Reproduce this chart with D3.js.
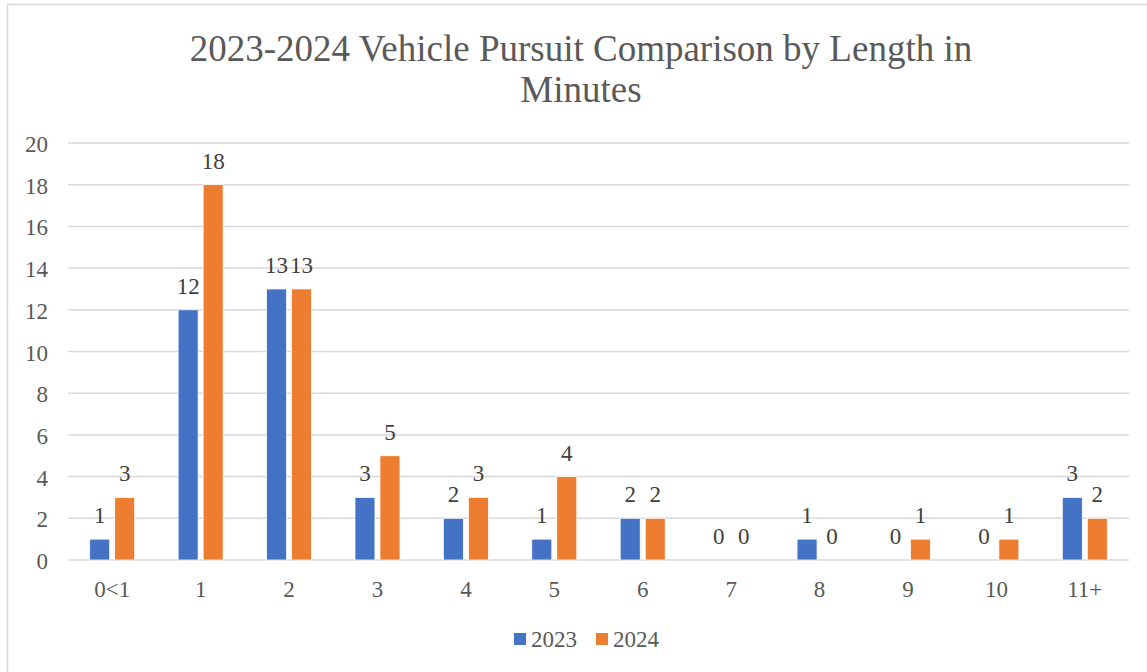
<!DOCTYPE html>
<html>
<head>
<meta charset="utf-8">
<script src="https://cdn.jsdelivr.net/npm/d3@7"></script>
<style>
  body { margin: 0; background: #fff; }
  text { font-family: "Liberation Serif", "Times New Roman", serif; }
</style>
</head>
<body>
<script>
// chart data
var categories = ["0<1", "1", "2", "3", "4", "5", "6", "7", "8", "9", "10", "11+"];
var seriesNames = ["2023", "2024"];
var values2023 = [1, 12, 13, 3, 2, 1, 2, 0, 1, 0, 0, 3];
var values2024 = [3, 18, 13, 5, 3, 4, 2, 0, 0, 1, 1, 2];
var yTicks = [0, 2, 4, 6, 8, 10, 12, 14, 16, 18, 20];
var colors = ["#4472C4", "#ED7D31"];

var width = 1147, height = 672;
var svg = d3.select("body").append("svg")
    .attr("width", width)
    .attr("height", height);

// outer frame
svg.append("rect")
    .attr("x", 7.5).attr("y", 4.5)
    .attr("width", width + 10).attr("height", height + 10)
    .attr("fill", "none")
    .attr("stroke", "#d9d9d9")
    .attr("stroke-width", 1.5);

// title
var title = svg.append("text")
    .attr("text-anchor", "middle")
    .attr("fill", "#595959")
    .attr("font-size", 37);
title.append("tspan").attr("x", 581).attr("y", 61).text("2023-2024 Vehicle Pursuit Comparison by Length in");
title.append("tspan").attr("x", 581).attr("y", 102).text("Minutes");

var plotLeft = 68, plotRight = 1129, plotTop = 143, plotBottom = 560;

var x = d3.scaleBand()
    .domain(categories)
    .range([plotLeft, plotRight]);

var y = d3.scaleLinear()
    .domain([0, 20])
    .range([plotBottom, plotTop]);

// gridlines
svg.selectAll("line.grid")
    .data(yTicks)
    .enter()
    .append("line")
    .attr("class", "grid")
    .attr("x1", plotLeft)
    .attr("x2", plotRight)
    .attr("y1", function (d) { return y(d); })
    .attr("y2", function (d) { return y(d); })
    .attr("stroke", "#d9d9d9")
    .attr("stroke-width", 1.5);

// y axis labels
svg.selectAll("text.ytick")
    .data(yTicks)
    .enter()
    .append("text")
    .attr("class", "ytick")
    .attr("x", 48)
    .attr("y", function (d) { return y(d) + 9; })
    .attr("text-anchor", "end")
    .attr("fill", "#595959")
    .attr("font-size", 23)
    .text(function (d) { return d; });

// x axis labels
svg.selectAll("text.xtick")
    .data(categories)
    .enter()
    .append("text")
    .attr("class", "xtick")
    .attr("x", function (d) { return x(d) + x.bandwidth() / 2; })
    .attr("y", 597)
    .attr("text-anchor", "middle")
    .attr("fill", "#595959")
    .attr("font-size", 23)
    .text(function (d) { return d; });

var barW = 20;
var offsets = [-12.5, 12.5];
var allSeries = [values2023, values2024];

allSeries.forEach(function (vals, si) {
    var rows = vals.map(function (v, i) { return { cat: categories[i], v: v }; });
    var cx = function (d) { return x(d.cat) + x.bandwidth() / 2 + offsets[si]; };

    svg.selectAll("rect.s" + si)
        .data(rows)
        .enter()
        .append("rect")
        .attr("class", "s" + si)
        .attr("x", function (d) { return cx(d) - barW / 2; })
        .attr("y", function (d) { return y(d.v); })
        .attr("width", barW)
        .attr("height", function (d) { return plotBottom - y(d.v); })
        .attr("fill", colors[si])
        .attr("stroke", "#fff")
        .attr("stroke-width", 0.75);

    svg.selectAll("text.lab" + si)
        .data(rows)
        .enter()
        .append("text")
        .attr("class", "lab" + si)
        .attr("x", cx)
        .attr("y", function (d) { return y(d.v) - 16; })
        .attr("text-anchor", "middle")
        .attr("fill", "#404040")
        .attr("font-size", 23)
        .text(function (d) { return d.v; });
});

// legend
var legendX = [514, 596];
seriesNames.forEach(function (name, i) {
    svg.append("rect")
        .attr("x", legendX[i]).attr("y", 633)
        .attr("width", 12).attr("height", 12)
        .attr("fill", colors[i]);
    svg.append("text")
        .attr("x", legendX[i] + 17)
        .attr("y", 647)
        .attr("fill", "#595959")
        .attr("font-size", 23)
        .text(name);
});
</script>
</body>
</html>
